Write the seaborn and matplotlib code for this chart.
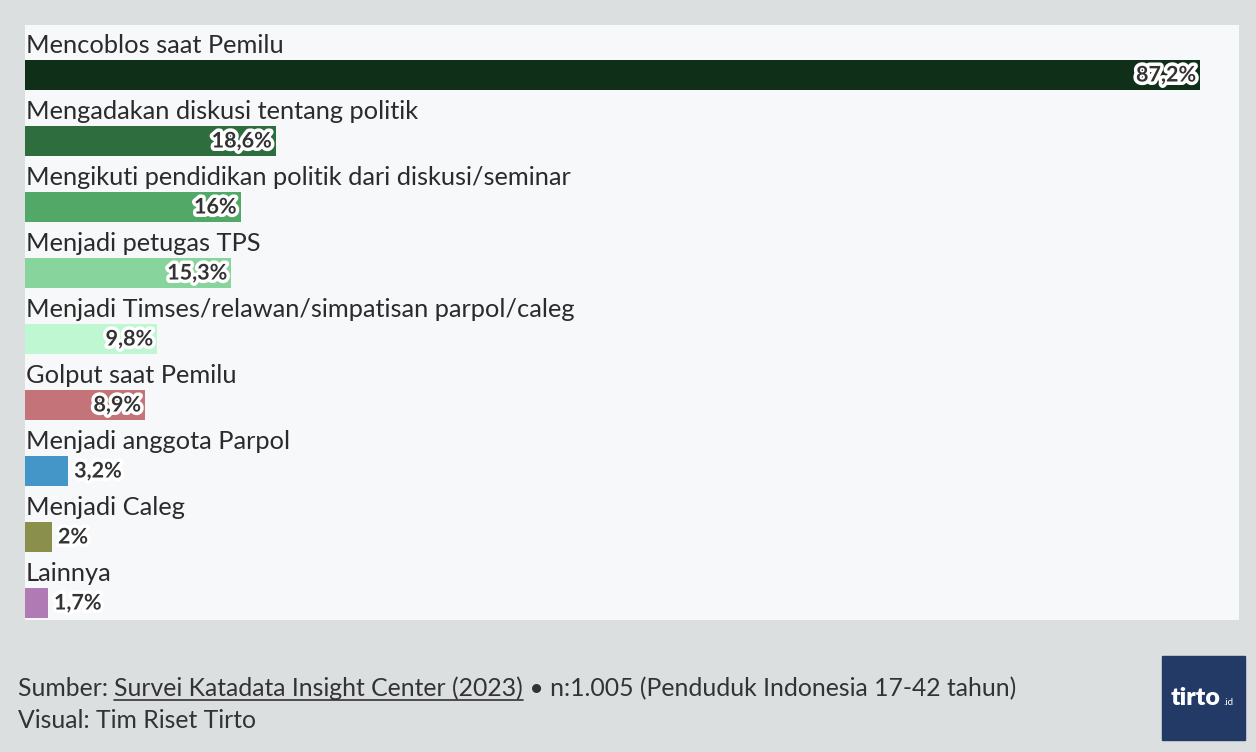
import matplotlib
matplotlib.use("Agg")
import matplotlib.pyplot as plt
import matplotlib.patheffects as pe
from matplotlib.lines import Line2D
from matplotlib.patches import Rectangle
import seaborn as sns
import pandas as pd

categories = [
    "Mencoblos saat Pemilu",
    "Mengadakan diskusi tentang politik",
    "Mengikuti pendidikan politik dari diskusi/seminar",
    "Menjadi petugas TPS",
    "Menjadi Timses/relawan/simpatisan parpol/caleg",
    "Golput saat Pemilu",
    "Menjadi anggota Parpol",
    "Menjadi Caleg",
    "Lainnya",
]
values = [87.2, 18.6, 16.0, 15.3, 9.8, 8.9, 3.2, 2.0, 1.7]
colors = ["#0f2f19", "#2e6e3e", "#52a866", "#88d49d", "#c0f7d3",
          "#c47478", "#4496c8", "#8a8f4b", "#b07ab5"]

source_prefix = "Sumber: "
source_link = "Survei Katadata Insight Center (2023)"
source_rest = " \u2022 n:1.005 (Penduduk Indonesia 17-42 tahun)"
credit = "Visual: Tim Riset Tirto"

sns.set_theme(style="white")
FONT = "Lato"
plt.rcParams["font.family"] = [FONT, "DejaVu Sans"]

W, H = 1256, 752
fig = plt.figure(figsize=(W / 100, H / 100), dpi=100, facecolor="#dcdfe0")

# panel area in pixels
px_l, px_r, px_t, px_b = 25, 1239, 25, 620
ax = fig.add_axes([px_l / W, 1 - px_b / H, (px_r - px_l) / W, (px_b - px_t) / H])
ax.set_facecolor("#f7f8f9")

df = pd.DataFrame({"cat": categories, "val": values})
row_px = 66
first_center = 75
bar_w = 30 / row_px
sns.barplot(data=df, x="val", y="cat", hue="cat", palette=colors, orient="h",
            width=bar_w, legend=False, ax=ax, saturation=1, linewidth=0)

scale = 1175 / 87.2  # px per percent
ax.set_xlim(0, (px_r - px_l) / scale)
n = len(categories)
top_lim = -(first_center - px_t) / row_px
bot_lim = (n - 1) + (px_b - (first_center + row_px * (n - 1))) / row_px
ax.set_ylim(bot_lim, top_lim)
ax.set_xlabel("")
ax.set_ylabel("")
ax.set_xticks([])
ax.set_yticks([])
for s in ax.spines.values():
    s.set_visible(False)

stroke = [pe.withStroke(linewidth=5, foreground="white")]
for i, (c, v) in enumerate(zip(categories, values)):
    ax.annotate(c, xy=(0, i - bar_w / 2), xytext=(1, 7), textcoords="offset pixels",
                ha="left", va="baseline", fontsize=18.3, color="#2b2b2b")
    lab = (f"{v:.1f}".rstrip("0").rstrip(".")).replace(".", ",") + "%"
    if v > 5:
        ax.annotate(lab, xy=(v, i), xytext=(-4, 0), textcoords="offset pixels",
                    ha="right", va="center", fontsize=15.5, fontweight="bold",
                    color="#333333", path_effects=stroke)
    else:
        ax.annotate(lab, xy=(v, i), xytext=(6, 0), textcoords="offset pixels",
                    ha="left", va="center", fontsize=15.5, fontweight="bold",
                    color="#333333", path_effects=stroke)

# footer
fig.canvas.draw()
r = fig.canvas.get_renderer()
fs = 17.8
y1 = 1 - 696 / H
t1 = fig.text(18 / W, y1, source_prefix, fontsize=fs, color="#333333", va="baseline")
bb = t1.get_window_extent(r)
t2 = fig.text(bb.x1 / W, y1, source_link, fontsize=fs, color="#333333", va="baseline")
bb2 = t2.get_window_extent(r)
fig.add_artist(Line2D([bb2.x0 / W, bb2.x1 / W], [1 - 700 / H, 1 - 700 / H],
                      color="#333333", lw=1.2, transform=fig.transFigure))
fig.text(bb2.x1 / W, y1, source_rest, fontsize=fs, color="#333333", va="baseline")
fig.text(18 / W, 1 - 728 / H, credit, fontsize=fs, color="#333333", va="baseline")

# logo
lx0, ly0, lx1, ly1 = 1162, 656, 1245, 740
fig.add_artist(Rectangle((lx0 / W, 1 - ly1 / H), (lx1 - lx0) / W, (ly1 - ly0) / H,
                         transform=fig.transFigure, color="#243a66"))
fig.text(1171 / W, 1 - 705 / H, "tirto", fontsize=18, fontweight="heavy",
         color="white", va="baseline", ha="left")
fig.text(1223 / W, 1 - 705 / H, ".id", fontsize=7, color="white", va="baseline", ha="left")

fig.savefig("out.png", dpi=100, facecolor=fig.get_facecolor())
